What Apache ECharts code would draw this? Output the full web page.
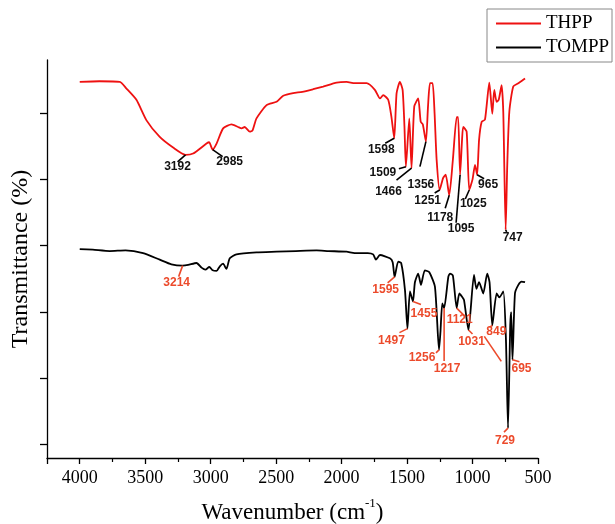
<!DOCTYPE html>
<html>
<head>
<meta charset="utf-8">
<script src="https://cdn.jsdelivr.net/npm/echarts@6/dist/echarts.min.js"></script>
<style>html,body{margin:0;padding:0;background:#fff;}#c{width:615px;height:524px;}</style>
</head>
<body>
<div id="c"></div>
<script>
// ---- data (wavenumber in cm-1, transmittance in arbitrary offset units) ----
const thppWavenumber = [4000,3850,3694,3643,3567,3490,3389,3287,3192,3134,3032,3012,2985,2955,2905,2841,2790,2764,2740,2701,2680,2650,2573,2497,2446,2370,2300,2217,2141,2038,1962,1900,1809,1746,1707,1682,1644,1620,1598,1580,1555,1534,1520,1509,1483,1466,1445,1415,1396,1380,1356,1340,1325,1305,1290,1274,1251,1225,1205,1178,1150,1121,1110,1095,1080,1071,1045,1025,1000,981,965,950,930,905,872,849,834,816,800,778,765,747,735,719,689,650,620,599];
const thppTransmittance = [56.7,56.8,56.7,55.7,54.0,50.9,48.4,46.8,45.7,45.9,47.4,47.6,46.5,47.4,49.7,50.3,49.9,49.7,49.9,49.2,49.4,51.2,53.2,53.7,54.6,55.0,55.2,55.6,56.0,56.6,56.7,56.5,56.5,55.5,54.2,54.7,54.0,51.5,48.2,55.0,56.7,55.5,50.0,43.9,51.2,43.7,53.0,54.2,50.7,50.3,47.7,53.0,56.5,56.5,52.0,44.9,40.4,42.2,42.7,39.6,45.0,51.4,51.4,42.7,48.0,49.9,49.2,40.4,42.0,44.2,42.7,48.0,50.7,51.0,56.6,51.9,55.5,53.7,54.0,56.2,52.0,34.4,44.0,52.2,56.0,56.5,56.9,57.2];

const tomppWavenumber = [4000,3900,3771,3650,3516,3389,3300,3214,3172,3108,3070,3040,3010,2985,2955,2930,2905,2880,2854,2803,2650,2497,2350,2191,2100,1962,1900,1800,1759,1738,1707,1631,1610,1595,1568,1545,1516,1497,1478,1455,1440,1415,1394,1364,1330,1287,1256,1245,1231,1217,1185,1172,1150,1121,1101,1080,1065,1031,989,970,950,918,888,870,849,816,795,765,745,729,712,705,695,676,650,625,599];
const tomppTransmittance = [31.5,31.4,31.2,31.3,30.9,29.9,29.2,29.0,29.1,29.4,28.7,28.4,28.8,28.3,28.2,28.9,29.3,28.5,30.1,30.7,31.0,31.1,31.2,31.3,31.2,31.1,30.9,30.9,30.7,29.9,30.6,30.1,29.5,27.3,29.6,29.4,25.3,19.5,25.1,23.6,26.5,27.8,26.1,28.3,28.0,25.8,16.3,19.0,23.3,22.6,27.3,27.8,27.5,22.6,24.8,24.3,23.8,19.3,27.6,25.5,26.5,24.8,27.8,26.5,20.0,24.8,24.2,25.1,18.0,4.5,20.0,22.0,14.8,24.8,26.1,26.6,26.5];

// labelled peaks: [wavenumber, transmittance]
const thppPeaks = [[3192,45.7],[2985,46.5],[1598,48.2],[1509,43.9],[1466,43.7],[1356,47.7],[1251,40.4],[1178,39.6],[1095,42.7],[1025,40.4],[965,42.7],[747,34.4]];
const tomppPeaks = [[3214,29.0],[1595,27.3],[1497,19.5],[1455,23.6],[1256,16.3],[1217,22.6],[1121,22.6],[1031,19.3],[849,20.0],[729,4.5],[695,14.8]];

const xTicks = [500,1000,1500,2000,2500,3000,3500,4000];
const yTickValues = [2,12,22,32,42,52];

// ---- annotation layout (pixel offsets from the peak: leader end dx,dy ; text centre dx,dy) ----
const thppLayout = [[-8,7,-8,12],[10,7,17,12],[-9,5,-13,11],[-7,2,-23,5.5],[-15,12,-23,24],[-6,25,-5,43],[-5,3,-12,11],[-4,13,-9,22],[-4,48,1,54],[-4,9,4,14],[7,4,11,10],[1,2,7,8]];
const tomppLayout = [[-4,11,-6,17],[-7,6,-9,13],[-8,4,-16,12],[8,3,11,12],[-3,3,-17,8],[0,53,3,61],[8,8,3,12],[4,4,3,12],[-3,2,4,6,-8,11,9,36],[-4,4,-3,13],[7,2,9,9]];

function zip(a,b){return a.map((v,i)=>[v,b[i]]);}

function annotation(name, peaks, layout, lineColor, textColor){
  return {
    type:'custom', name:name, silent:true, clip:false, z:5,
    data: peaks.map((p,i)=>[p[0],p[1],i]),
    renderItem:function(params, api){
      const i = api.value(2);
      const pt = api.coord([api.value(0), api.value(1)]);
      const L = layout[i];
      const children = [
        {type:'line', shape:{x1:pt[0],y1:pt[1],x2:pt[0]+L[0],y2:pt[1]+L[1]}, style:{stroke:lineColor,lineWidth:1.6}},
        {type:'text', x:pt[0]+L[2], y:pt[1]+L[3], style:{text:String(peaks[i][0]), fill:textColor, font:'bold 12px "Liberation Sans", Arial, sans-serif', align:'center', verticalAlign:'middle'}}
      ];
      if (L.length > 4) {
        children.push({type:'line', shape:{x1:pt[0]+L[4],y1:pt[1]+L[5],x2:pt[0]+L[6],y2:pt[1]+L[7]}, style:{stroke:lineColor,lineWidth:1.6}});
      }
      return {type:'group', children:children};
    }
  };
}

const chart = echarts.init(document.getElementById('c'), null, {renderer:'canvas'});
const serif = '"Liberation Serif", "Times New Roman", serif';
chart.setOption({
  animation:false,
  backgroundColor:'#fff',
  grid:{left:47, right:77, top:60, bottom:66, containLabel:false, outerBoundsMode:'none'},
  legend:{
    data:['THPP','TOMPP'], orient:'vertical', left:487, top:9,
    padding:[5,3,5,9], itemGap:5, itemWidth:45, itemHeight:2, icon:'rect',
    borderColor:'#888', borderWidth:1, backgroundColor:'#fff',
    textStyle:{fontFamily:serif, fontSize:19, color:'#000'}
  },
  xAxis:{
    type:'value', inverse:true, min:500, max:4250, interval:500,
    axisLine:{show:true, onZero:false, lineStyle:{color:'#000', width:1.3}},
    axisTick:{show:true, inside:false, length:6, lineStyle:{color:'#000', width:1.3}},
    minorTick:{show:true, splitNumber:2, length:4, lineStyle:{color:'#000', width:1.2}},
    splitLine:{show:false},
    axisLabel:{margin:11, fontFamily:serif, fontSize:18, color:'#000',
      formatter:function(v){return xTicks.indexOf(v)>=0 ? String(v) : '';}},
    name:'{a|Wavenumber (cm}{s|-1}{a|)}', nameLocation:'middle', nameGap:39,
    nameTextStyle:{rich:{
      a:{fontFamily:serif, fontSize:23, color:'#000', lineHeight:27, verticalAlign:'bottom'},
      s:{fontFamily:serif, fontSize:13, color:'#000', lineHeight:27, verticalAlign:'top'}
    }}
  },
  yAxis:{
    type:'value', min:0, max:60,
    axisLine:{show:true, onZero:false, lineStyle:{color:'#000', width:1.3}},
    axisTick:{show:true, inside:false, length:7, customValues:yTickValues, lineStyle:{color:'#000', width:1.3}},
    axisLabel:{show:false, customValues:yTickValues},
    splitLine:{show:false},
    name:'Transmittance (%)', nameLocation:'middle', nameGap:14,
    nameTextStyle:{fontFamily:serif, fontSize:24, color:'#000'}
  },
  series:[
    {name:'THPP', type:'line', data:zip(thppWavenumber,thppTransmittance), showSymbol:false, symbol:'none', smooth:0.2,
     lineStyle:{color:'#ee1111', width:1.8}, itemStyle:{color:'#ee1111'}},
    {name:'TOMPP', type:'line', data:zip(tomppWavenumber,tomppTransmittance), showSymbol:false, symbol:'none', smooth:0.2,
     lineStyle:{color:'#000', width:1.8}, itemStyle:{color:'#000'}},
    annotation('thppPeaks', thppPeaks, thppLayout, '#000', '#111'),
    annotation('tomppPeaks', tomppPeaks, tomppLayout, '#ec4a2b', '#ec4a2b')
  ]
});
</script>
</body>
</html>
